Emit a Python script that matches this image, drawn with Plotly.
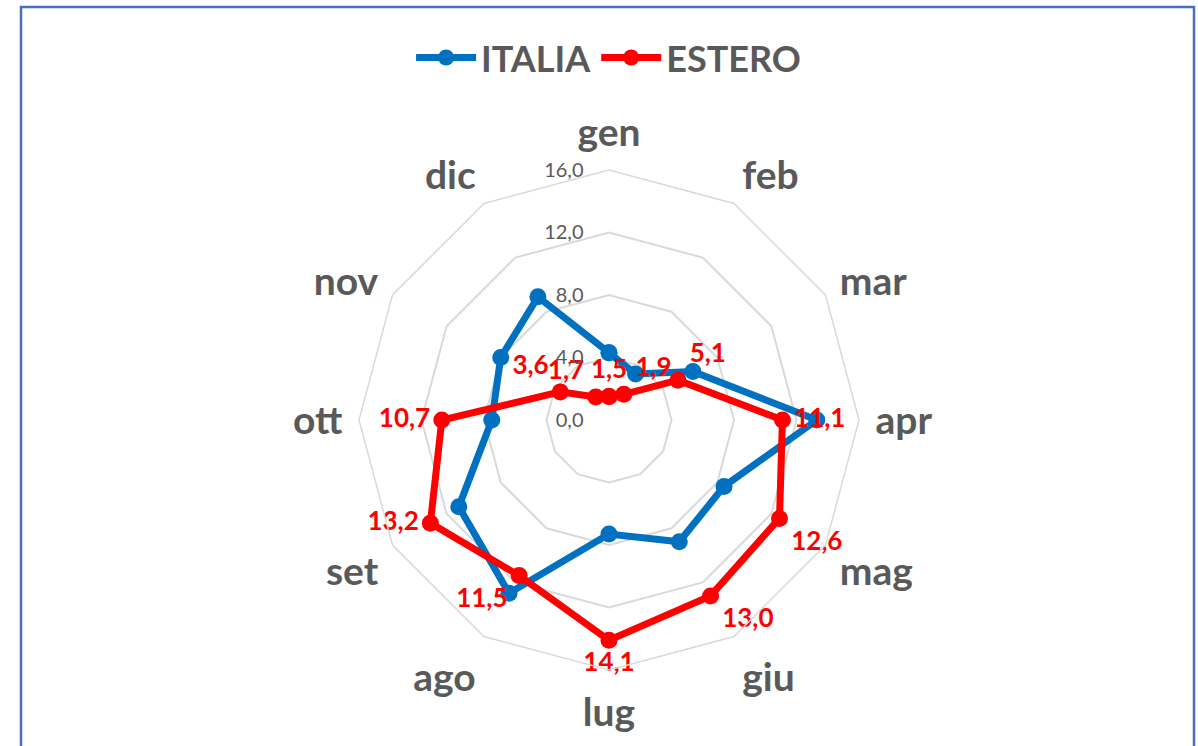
import plotly.graph_objects as go

months = ["gen", "feb", "mar", "apr", "mag", "giu", "lug", "ago", "set", "ott", "nov", "dic"]
italia = [4.3, 3.4, 6.2, 13.3, 8.5, 9.0, 7.3, 12.8, 11.1, 7.5, 8.0, 9.1]
estero = [1.5, 1.9, 5.1, 11.1, 12.6, 13.0, 14.1, 11.5, 13.2, 10.7, 3.6, 1.7]
radial_ticks = [0, 4, 8, 12, 16]

estero_label_pos = ["top center", "top right", "top right", "middle right", "bottom right",
                    "bottom right", "bottom center", "bottom left", "middle left",
                    "middle left", "top left", "top left"]

BLUE = "#0070C0"
RED = "#FF0000"
GRAY = "#595959"
GRID = "#D9D9D9"
FONT = "Lato"

fig = go.Figure()

fig.add_trace(go.Scatterpolar(
    r=italia + italia[:1], theta=months + months[:1], name="ITALIA",
    mode="lines+markers",
    line=dict(color=BLUE, width=7),
    marker=dict(color=BLUE, size=17),
))
fig.add_trace(go.Scatterpolar(
    r=estero + estero[:1], theta=months + months[:1], name="ESTERO",
    mode="lines+markers+text",
    line=dict(color=RED, width=7),
    marker=dict(color=RED, size=17),
    texttemplate=["%{r:.1f}"] * 12 + [""],
    textposition=estero_label_pos + ["top right"],
    textfont=dict(family=FONT, size=26, color=RED, weight="bold"),
))

fig.update_layout(
    width=1198, height=746,
    paper_bgcolor="white",
    margin=dict(l=0, r=0, t=0, b=0),
    separators=", ",
    font=dict(family=FONT, color=GRAY),
    showlegend=True,
    legend=dict(
        orientation="h", x=0.508, xanchor="center", y=0.963, yanchor="top",
        font=dict(family=FONT, size=36, color=GRAY, weight="bold"),
        itemwidth=60, bgcolor="rgba(0,0,0,0)",
    ),
    polar=dict(
        domain=dict(x=[359 / 1198, 859 / 1198], y=[1 - 670 / 746, 1 - 170 / 746]),
        bgcolor="white",
        gridshape="linear",
        radialaxis=dict(
            range=[0, 16], tickvals=radial_ticks, tickformat=".1f",
            angle=90, side="counterclockwise", tickangle=90,
            showline=False, ticks="outside", ticklen=18, tickcolor="rgba(0,0,0,0)",
            gridcolor=GRID, gridwidth=1.5,
            tickfont=dict(family=FONT, size=20, color=GRAY),
        ),
        angularaxis=dict(
            direction="clockwise", rotation=90,
            showgrid=False, showline=True, linecolor=GRID, linewidth=1.5,
            ticks="outside", ticklen=8, tickcolor="rgba(0,0,0,0)",
            tickfont=dict(family=FONT, size=39, color=GRAY, weight="bold"),
        ),
    ),
    shapes=[dict(type="rect", xref="paper", yref="paper",
                 x0=21 / 1198, x1=1194 / 1198, y0=-0.05, y1=1 - 7 / 746,
                 line=dict(color="#4A6FC0", width=2.5))],
)

fig.write_html("out.html", config={"displayModeBar": False},
               post_script="document.body.style.margin='0';document.body.style.overflow='hidden';")
